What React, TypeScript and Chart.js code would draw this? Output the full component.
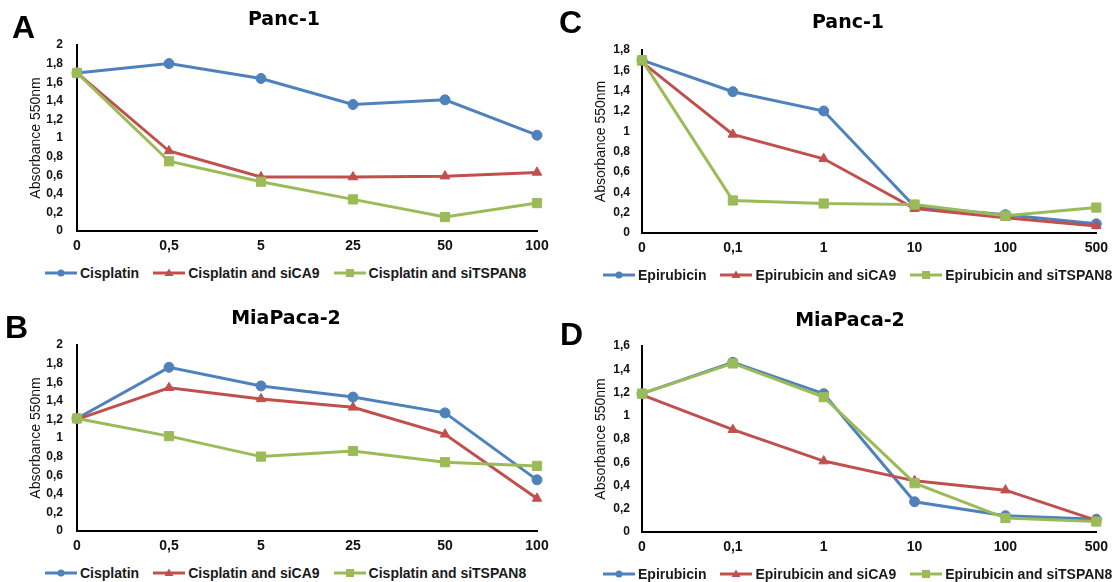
import React, { useEffect, useRef } from 'react';
import { Chart, registerables } from 'chart.js';

Chart.register(...registerables);

// ---------- data ----------
const cisplatinDoses = ['0', '0,5', '5', '25', '50', '100'];
const epirubicinDoses = ['0', '0,1', '1', '10', '100', '500'];

// A: Panc-1, cisplatin
const panc1Cisplatin = [1.7, 1.8, 1.64, 1.36, 1.41, 1.03];
const panc1CisplatinCA9 = [1.7, 0.86, 0.58, 0.58, 0.59, 0.63];
const panc1CisplatinTSPAN8 = [1.7, 0.75, 0.53, 0.34, 0.15, 0.3];

// B: MiaPaca-2, cisplatin
const miaCisplatin = [1.21, 1.76, 1.56, 1.44, 1.27, 0.55];
const miaCisplatinCA9 = [1.2, 1.54, 1.42, 1.33, 1.04, 0.35];
const miaCisplatinTSPAN8 = [1.21, 1.02, 0.8, 0.86, 0.74, 0.7];

// C: Panc-1, epirubicin
const panc1Epirubicin = [1.7, 1.39, 1.2, 0.26, 0.18, 0.09];
const panc1EpirubicinCA9 = [1.68, 0.97, 0.73, 0.24, 0.15, 0.07];
const panc1EpirubicinTSPAN8 = [1.7, 0.32, 0.29, 0.28, 0.17, 0.25];

// D: MiaPaca-2, epirubicin
const miaEpirubicin = [1.19, 1.46, 1.19, 0.26, 0.14, 0.11];
const miaEpirubicinCA9 = [1.18, 0.88, 0.61, 0.44, 0.36, 0.1];
const miaEpirubicinTSPAN8 = [1.19, 1.45, 1.16, 0.42, 0.12, 0.09];

const cisplatinNames = ['Cisplatin', 'Cisplatin and siCA9', 'Cisplatin and siTSPAN8'];
const epirubicinNames = ['Epirubicin', 'Epirubicin and siCA9', 'Epirubicin and siTSPAN8'];

const yAxisTitle = 'Absorbance 550nm';

// ---------- styles ----------
const COLORS = ['#4F81BD', '#C0504D', '#9BBB59'];
const STYLES = ['circle', 'triangle', 'rect'];
const RADII = [5, 5.5, 6.5];
const Y_TICK_FONT = { family: '"Liberation Sans", Arial, sans-serif', size: 12, weight: 'bold' as const };
const X_TICK_FONT = { family: '"Liberation Sans", Arial, sans-serif', size: 14, weight: 'bold' as const };

const fmt = (v: number) => String(Number(Number(v).toFixed(1))).replace('.', ',');

type PanelProps = {
  letter: string;
  title: string;
  labels: string[];
  series: number[][];
  names: string[];
  yMax: number;
  box: { left: number; top: number; width: number; height: number };
  area: { left: number; right: number; top: number; bottom: number };
  yTickPad: number;
  yTitlePad: number;
  letterPos: { left: number; top: number };
  titlePos: { cx: number; top: number };
  legendPos: { left: number; cy: number };
};

function LegendIcon({ idx }: { idx: number }) {
  const c = COLORS[idx];
  let marker: React.ReactNode;
  if (idx === 0) marker = <circle cx={16} cy={6} r={3.5} fill={c} />;
  else if (idx === 1) marker = <polygon points="16,1.5 20.5,9 11.5,9" fill={c} />;
  else marker = <rect x={12} y={2} width={8} height={8} fill={c} />;
  return (
    <svg width={32} height={12} style={{ marginRight: 3, display: 'block' }}>
      <line x1={0} y1={6} x2={32} y2={6} stroke={c} strokeWidth={3} />
      {marker}
    </svg>
  );
}

function Panel(p: PanelProps) {
  const ref = useRef<HTMLCanvasElement | null>(null);
  useEffect(() => {
    if (!ref.current) return;
    const { box, area } = p;
    const chart = new Chart(ref.current, {
      type: 'line',
      data: {
        labels: p.labels,
        datasets: p.series.map((d, i) => ({
          label: p.names[i],
          data: d,
          borderColor: COLORS[i],
          backgroundColor: COLORS[i],
          borderWidth: 3,
          pointStyle: STYLES[i] as any,
          pointRadius: RADII[i],
          pointBorderWidth: 1,
          pointBackgroundColor: COLORS[i],
          pointBorderColor: COLORS[i],
          tension: 0,
          order: 2 - i,
          clip: false as any,
        })),
      },
      options: {
        responsive: false,
        animation: false,
        devicePixelRatio: 1,
        layout: {
          padding: {
            left: 0,
            right: box.width - area.right,
            top: area.top,
            bottom: box.height - area.bottom - 25,
          },
        },
        plugins: {
          legend: { display: false },
          title: { display: false },
          tooltip: { enabled: false },
        },
        scales: {
          x: {
            type: 'category',
            offset: false,
            grid: { display: false, drawTicks: false },
            border: { display: true, color: '#000', width: 2 },
            ticks: { font: X_TICK_FONT, color: '#111', padding: 7, autoSkip: false, maxRotation: 0 },
            afterFit: (s: any) => {
              s.height = 25;
            },
          },
          y: {
            min: 0,
            max: p.yMax,
            grid: { display: false, drawTicks: false },
            border: { display: true, color: '#000', width: 2 },
            ticks: {
              stepSize: 0.2,
              font: Y_TICK_FONT,
              color: '#111',
              padding: p.yTickPad,
              autoSkip: false,
              callback: (v: any) => fmt(Number(v)),
            },
            title: {
              display: true,
              text: yAxisTitle,
              color: '#111',
              font: { family: '"Liberation Sans", Arial, sans-serif', size: 14 },
              padding: { top: p.yTitlePad, bottom: 0 },
            },
            afterFit: (s: any) => {
              s.width = area.left;
            },
          },
        },
      },
    });
    return () => chart.destroy();
  }, []);

  return (
    <>
      <canvas
        ref={ref}
        width={p.box.width}
        height={p.box.height}
        style={{ position: 'absolute', left: p.box.left, top: p.box.top, width: p.box.width, height: p.box.height }}
      />
      <div
        style={{
          position: 'absolute',
          left: p.letterPos.left,
          top: p.letterPos.top,
          font: 'bold 32px "Liberation Sans", Arial, sans-serif',
          lineHeight: '32px',
          color: '#000',
        }}
      >
        {p.letter}
      </div>
      <div
        style={{
          position: 'absolute',
          left: p.titlePos.cx - 150,
          width: 300,
          top: p.titlePos.top,
          textAlign: 'center',
          font: 'bold 19px "DejaVu Sans", sans-serif',
          lineHeight: '19px',
          color: '#000',
        }}
      >
        {p.title}
      </div>
      <div
        style={{
          position: 'absolute',
          left: p.legendPos.left,
          top: p.legendPos.cy - 8,
          height: 16,
          display: 'flex',
          alignItems: 'center',
          whiteSpace: 'nowrap',
          font: 'bold 14px "Liberation Sans", Arial, sans-serif',
          lineHeight: '16px',
          color: '#1a1a1a',
        }}
      >
        {p.names.map((n, i) => (
          <div key={n} style={{ display: 'flex', alignItems: 'center', marginLeft: i ? 14 : 0 }}>
            <LegendIcon idx={i} />
            <span>{n}</span>
          </div>
        ))}
      </div>
    </>
  );
}

export default function App() {
  return (
    <div
      style={{
        position: 'absolute',
        left: 0,
        top: 0,
        width: 1115,
        height: 582,
        background: '#fff',
        overflow: 'hidden',
      }}
    >
      <Panel
        letter="A"
        title="Panc-1"
        labels={cisplatinDoses}
        series={[panc1Cisplatin, panc1CisplatinCA9, panc1CisplatinTSPAN8]}
        names={cisplatinNames}
        yMax={2}
        box={{ left: 0, top: 0, width: 560, height: 262 }}
        area={{ left: 77, right: 537, top: 45, bottom: 231 }}
        yTickPad={14}
        yTitlePad={28}
        letterPos={{ left: 12, top: 11 }}
        titlePos={{ cx: 284, top: 9 }}
        legendPos={{ left: 45, cy: 273 }}
      />
      <Panel
        letter="B"
        title="MiaPaca-2"
        labels={cisplatinDoses}
        series={[miaCisplatin, miaCisplatinCA9, miaCisplatinTSPAN8]}
        names={cisplatinNames}
        yMax={2}
        box={{ left: 0, top: 290, width: 560, height: 270 }}
        area={{ left: 77, right: 537, top: 55, bottom: 241 }}
        yTickPad={14}
        yTitlePad={28}
        letterPos={{ left: 5, top: 311 }}
        titlePos={{ cx: 286, top: 308 }}
        legendPos={{ left: 45, cy: 573 }}
      />
      <Panel
        letter="C"
        title="Panc-1"
        labels={epirubicinDoses}
        series={[panc1Epirubicin, panc1EpirubicinCA9, panc1EpirubicinTSPAN8]}
        names={epirubicinNames}
        yMax={1.8}
        box={{ left: 555, top: 0, width: 560, height: 262 }}
        area={{ left: 87, right: 545, top: 50, bottom: 233 }}
        yTickPad={12}
        yTitlePad={38}
        letterPos={{ left: 559, top: 6 }}
        titlePos={{ cx: 848, top: 12 }}
        legendPos={{ left: 603, cy: 275 }}
      />
      <Panel
        letter="D"
        title="MiaPaca-2"
        labels={epirubicinDoses}
        series={[miaEpirubicin, miaEpirubicinCA9, miaEpirubicinTSPAN8]}
        names={epirubicinNames}
        yMax={1.6}
        box={{ left: 555, top: 290, width: 560, height: 270 }}
        area={{ left: 87, right: 545, top: 56, bottom: 242 }}
        yTickPad={12}
        yTitlePad={38}
        letterPos={{ left: 560, top: 318 }}
        titlePos={{ cx: 850, top: 310 }}
        legendPos={{ left: 603, cy: 574 }}
      />
    </div>
  );
}
